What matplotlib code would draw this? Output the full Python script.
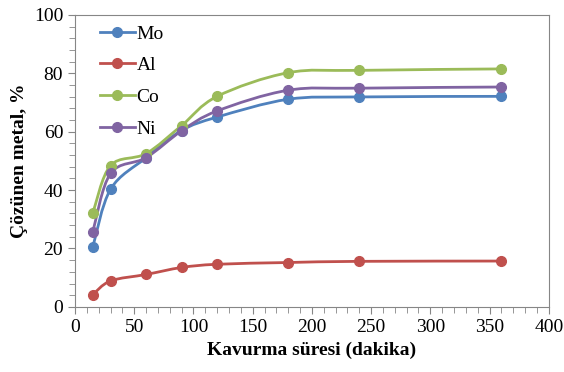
import numpy as np
import matplotlib
matplotlib.use('Agg')
import matplotlib.pyplot as plt
from matplotlib.path import Path
from matplotlib.patches import PathPatch
from matplotlib.ticker import MultipleLocator

plt.rcParams['font.family'] = ['Liberation Serif', 'DejaVu Serif']

minutes = [15, 30, 60, 90, 120, 180, 240, 360]
mo = [20.5, 40.3, 51.1, 60.4, 65.0, 71.1, 71.9, 72.1]
al = [4.2, 8.9, 11.1, 13.5, 14.6, 15.2, 15.6, 15.7]
co = [32.1, 48.4, 52.5, 62.1, 72.1, 80.2, 81.0, 81.5]
ni = [25.7, 45.7, 51.1, 60.3, 67.1, 74.2, 74.9, 75.3]

series = [('Mo', mo, '#4F81BD'), ('Al', al, '#C0504D'),
          ('Co', co, '#9BBB59'), ('Ni', ni, '#8064A2')]


def smooth_path(x, y, t=1/6):
    # excel-like smoothed line: catmull-rom segments as cubic beziers
    p = np.column_stack([x, y]).astype(float)
    n = len(p)
    verts = [p[0]]
    codes = [Path.MOVETO]
    for i in range(n - 1):
        p0 = p[i - 1] if i > 0 else p[i]
        p3 = p[i + 2] if i + 2 < n else p[i + 1]
        c1 = p[i] + (p[i + 1] - p0) * t
        c2 = p[i + 1] - (p3 - p[i]) * t
        verts += [c1, c2, p[i + 1]]
        codes += [Path.CURVE4] * 3
    return Path(verts, codes)


fig = plt.figure(figsize=(5.64, 3.72), dpi=100)
ax = fig.add_axes([0.133, 0.175, 0.84, 0.785])

for name, vals, col in series:
    ax.add_patch(PathPatch(smooth_path(minutes, vals), fill=False,
                           edgecolor=col, lw=2))
    ax.plot(minutes, vals, 'o', color=col, ms=7, label=name)

handles = [plt.Line2D([], [], color=c, marker='o', ms=7, lw=2) for _, _, c in series]
leg = ax.legend(handles, [s[0] for s in series], loc='upper left',
                frameon=False, fontsize=14, handlelength=1.8,
                handletextpad=0.1, labelspacing=0.72,
                bbox_to_anchor=(0.015, 1.025))

ax.set_xlim(0, 400)
ax.set_ylim(0, 100)
ax.xaxis.set_major_locator(MultipleLocator(50))
ax.xaxis.set_minor_locator(MultipleLocator(10))
ax.yaxis.set_major_locator(MultipleLocator(20))
ax.yaxis.set_minor_locator(MultipleLocator(4))
ax.tick_params(which='both', direction='out', color='#868686', labelsize=14)
ax.tick_params(which='major', length=5)
ax.tick_params(which='minor', length=4)
for s in ax.spines.values():
    s.set_color('#868686')

ax.set_xlabel('Kavurma süresi (dakika)', fontsize=14, fontweight='bold')
ax.set_ylabel('Çözünen metal, %', fontsize=14, fontweight='bold')

fig.savefig('out.png', dpi=100)
